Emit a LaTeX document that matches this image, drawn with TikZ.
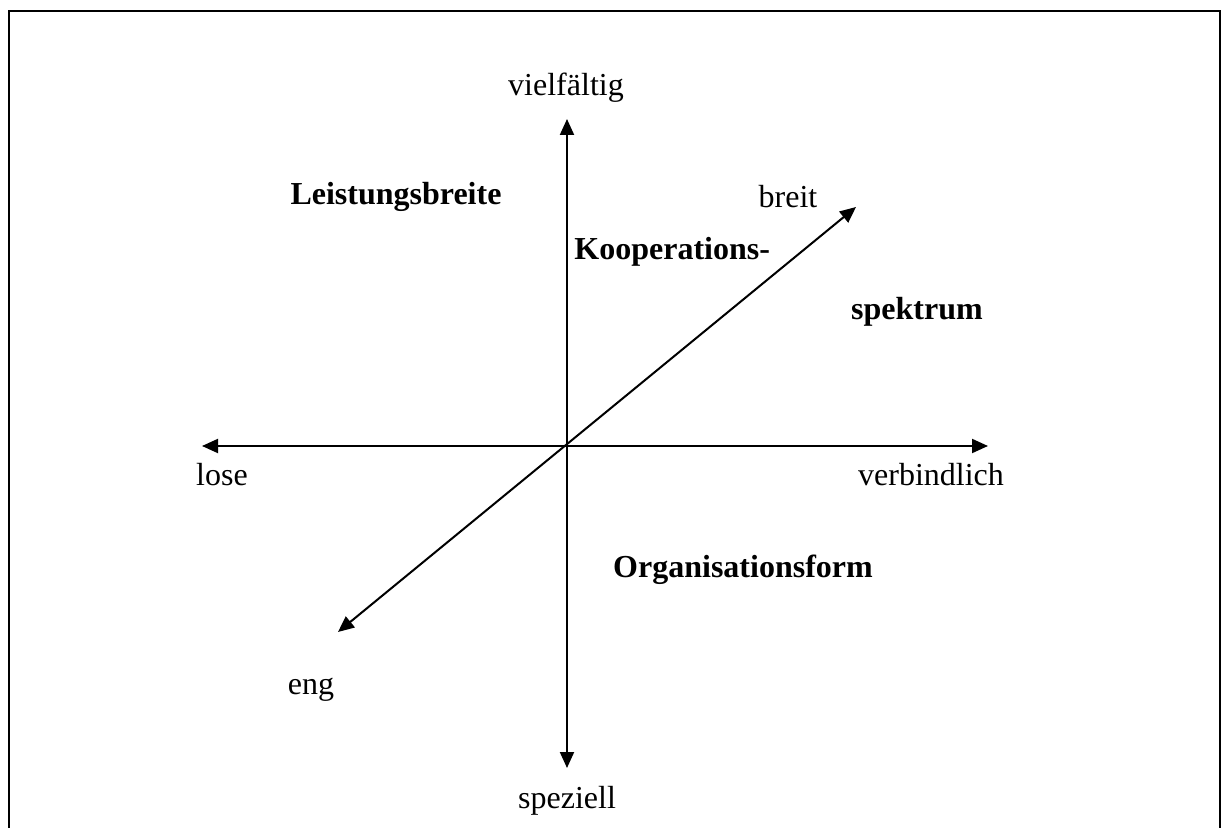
\documentclass[tikz,border=0pt]{standalone}
\usepackage{fontspec}
\setmainfont{Liberation Serif}
\usetikzlibrary{arrows.meta}
\tikzset{axis/.style={line width=1pt,{Triangle[length=8pt,width=7pt]}-{Triangle[length=8pt,width=7pt]}},
  lbl/.style={font=\fontsize{16}{19}\selectfont,inner sep=0pt},
  blbl/.style={lbl,font=\fontsize{16}{19}\selectfont\bfseries}}

\begin{document}
\begin{tikzpicture}[x=0.5pt,y=-0.5pt]
        \useasboundingbox (0,0) rectangle (1227,828);
        \draw [line width=1.2pt] (9,840) -- (9,11) -- (1220,11) -- (1220,840);
        % axes
        \coordinate (top) at (567,119);
        \coordinate (bot) at (567,768);
        \coordinate (left) at (202,446);
        \coordinate (right) at (988,446);
        \coordinate (ne) at (856,207);
        \coordinate (sw) at (338,632);
        \draw [axis] (bot) -- (top);
        \draw [axis] (left) -- (right);
        \draw [axis] (sw) -- (ne);
        % labels
        \node (viel) at (566,88) [lbl] {vielfältig};
        \node (spez) at (567,801) [lbl] {speziell};
        \node (lose) at (222,475) [lbl] {lose};
        \node (verb) at (931,475) [lbl] {verbindlich};
        \node (breit) at (788,197) [lbl] {breit};
        \node (eng) at (311,690) [lbl] {eng};
        \node (leist) at (396,197) [blbl] {Leistungsbreite};
        \node (koop) at (574,252) [blbl,anchor=west] {Kooperations-};
        \node (spek) at (917,312) [blbl] {spektrum};
        \node (orga) at (743,570) [blbl] {Organisationsform};
      \end{tikzpicture}
\end{document}
